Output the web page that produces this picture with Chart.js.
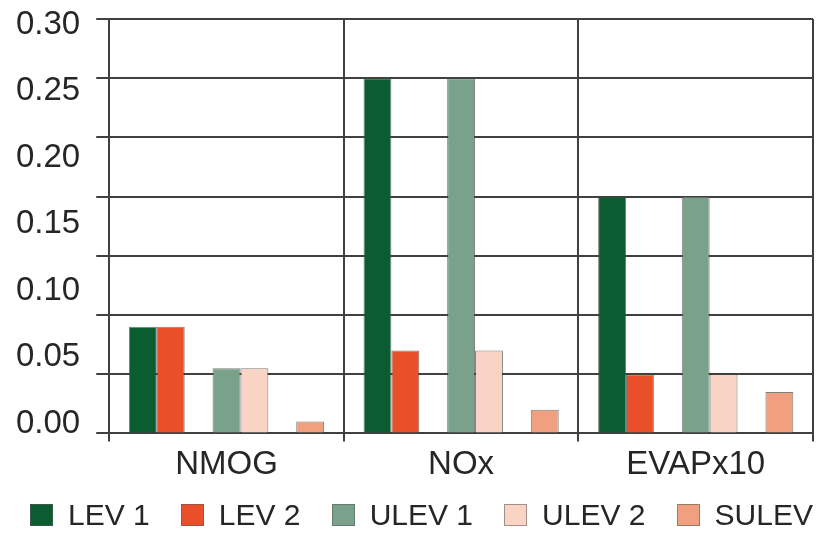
<!DOCTYPE html>
<html>
<head>
<meta charset="utf-8">
<script src="https://cdn.jsdelivr.net/npm/chart.js@4/dist/chart.umd.min.js"></script>
<style>
  html, body { margin: 0; padding: 0; background: #fff; }
  #wrap { position: relative; width: 817px; height: 534px; }
  #legend {
    position: absolute; left: 30px; right: 4px; top: 497px; height: 36px;
    display: flex; justify-content: space-between; align-items: center;
    font: 30px "Liberation Sans", Arial, sans-serif; color: #262626;
  }
  .item { display: flex; align-items: center; white-space: nowrap; }
  .swatch { width: 23px; height: 22px; box-sizing: border-box; border: 1px solid rgba(90,90,90,0.55); margin-right: 15px; }
</style>
</head>
<body>
<div id="wrap">
  <canvas id="c" width="817" height="534"></canvas>
  <div id="legend"></div>
</div>
<script>
// Emission standards by pollutant (g/mi; evaporative scaled x10)
const categories = ['NMOG', 'NOx', 'EVAPx10'];
const seriesNames = ['LEV 1', 'LEV 2', 'ULEV 1', 'ULEV 2', 'SULEV'];
const lev1  = [0.09, 0.30, 0.20];
const lev2  = [0.09, 0.07, 0.05];
const ulev1 = [0.055, 0.30, 0.20];
const ulev2 = [0.055, 0.07, 0.05];
const sulev = [0.01, 0.02, 0.035];
const yTickLabels = ['0.00', '0.05', '0.10', '0.15', '0.20', '0.25', '0.30'];
const seriesColors = ['#0b5d31', '#e9502a', '#7aa28a', '#f9d3c3', '#f0a07f'];

const FONT = '"Liberation Sans", Arial, sans-serif';
const GRID = '#404040';
const TEXT = '#262626';

const values = [lev1, lev2, ulev1, ulev2, sulev];
const bar = (i) => ({
  label: seriesNames[i],
  data: values[i],
  backgroundColor: seriesColors[i],
  borderColor: 'rgba(70,70,70,0.7)',
  borderWidth: 1
});
// empty slots separate the LEV, ULEV and SULEV pairs inside each group
const spacer = () => ({ label: '', data: categories.map(() => null) });

const datasets = [bar(0), bar(1), spacer(), bar(2), bar(3), spacer(), bar(4)];

new Chart(document.getElementById('c'), {
  type: 'bar',
  data: { labels: categories, datasets },
  options: {
    responsive: false,
    animation: false,
    devicePixelRatio: 1,
    categoryPercentage: 0.832,
    barPercentage: 1.0,
    layout: { padding: { top: 19, left: 0, right: 4, bottom: 45 } },
    plugins: { legend: { display: false }, tooltip: { enabled: false } },
    scales: {
      x: {
        grid: { display: true, offset: true, color: GRID, lineWidth: 2, tickLength: 8 },
        border: { color: GRID, width: 2 },
        ticks: { font: { size: 33, family: FONT }, color: TEXT, padding: 4, maxRotation: 0 }
      },
      y: {
        position: 'left',
        weight: 0,
        min: 0,
        max: 0.35,
        ticks: { display: false, stepSize: 0.05 },
        grid: { color: GRID, lineWidth: 2, tickLength: 13 },
        border: { color: GRID, width: 2 }
      },
      yLabels: {
        type: 'linear',
        position: 'left',
        weight: 1,
        min: -0.0075,
        max: 0.3045,
        grid: { display: false, drawTicks: false },
        border: { display: false },
        ticks: {
          font: { size: 33, family: FONT },
          color: TEXT,
          padding: 16,
          callback: (v) => Number(v).toFixed(2)
        },
        afterBuildTicks: (scale) => {
          scale.ticks = yTickLabels.map((t) => ({ value: parseFloat(t) }));
        },
        // labels sit inside the axis range, so no extra room above or below
        afterFit: (scale) => {
          scale.paddingTop = 0;
          scale.paddingBottom = 0;
        }
      }
    }
  }
});

// legend row
const legend = document.getElementById('legend');
seriesNames.forEach((name, i) => {
  const item = document.createElement('div');
  item.className = 'item';
  const sw = document.createElement('span');
  sw.className = 'swatch';
  sw.style.background = seriesColors[i];
  const tx = document.createElement('span');
  tx.textContent = name;
  item.appendChild(sw);
  item.appendChild(tx);
  legend.appendChild(item);
});
</script>
</body>
</html>
